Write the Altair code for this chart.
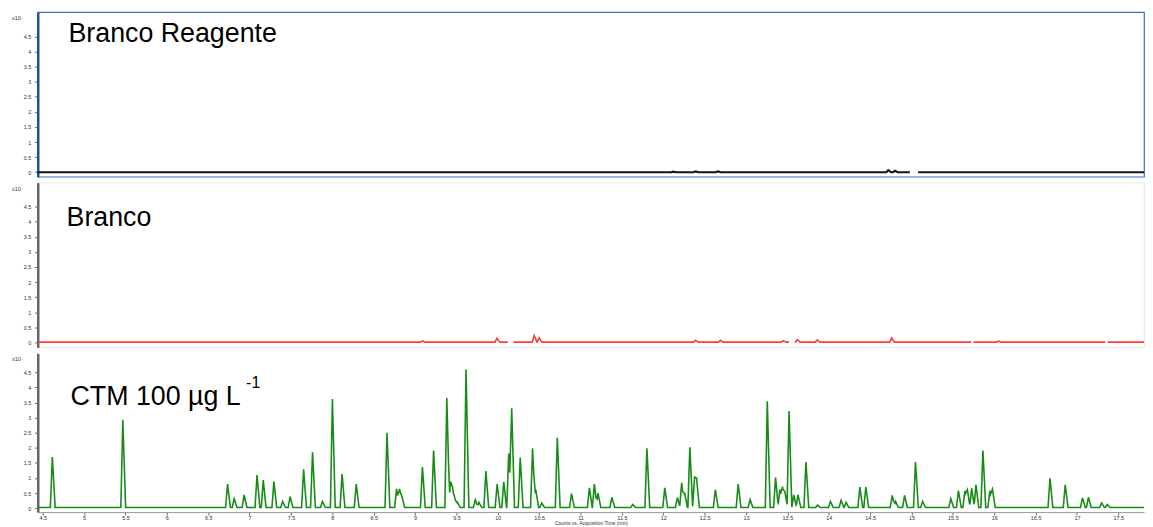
import altair as alt
import pandas as pd
import numpy as np

# ---- data (time in min, intensity in units of 1e7 counts) ----
green_t = [4.616, 5.468, 6.734, 6.814, 6.934, 7.090, 7.165, 7.294, 7.40, 7.49, 7.653, 7.761,
           7.881, 8.001, 8.118, 8.289, 8.661, 8.777, 8.813, 8.841, 9.089, 9.224, 9.384, 9.428,
           9.452, 9.476, 9.512, 9.616, 9.728, 9.772, 9.856, 9.992, 10.072, 10.132, 10.168,
           10.271, 10.420, 10.459, 10.531, 10.719, 10.891, 11.107, 11.167, 11.211, 11.379,
           11.631, 11.802, 12.018, 12.170, 12.222, 12.258, 12.321, 12.378, 12.402, 12.629,
           12.905, 13.049, 13.257, 13.357, 13.409, 13.441, 13.469, 13.520, 13.577, 13.628,
           13.724, 13.864, 14.020, 14.149, 14.209, 14.376, 14.448, 14.767, 14.808, 14.916,
           15.048, 15.135, 15.475, 15.567, 15.645, 15.675, 15.727, 15.779, 15.863, 15.947,
           15.978, 16.674, 16.858, 17.066, 17.138, 17.298, 17.366]
green_h = [1.67, 2.90, 0.78, 0.29, 0.42, 1.08, 0.91, 0.86, 0.20, 0.36, 1.27, 1.83,
           0.20, 3.60, 1.11, 0.78, 2.48, 0.62, 0.62, 0.37, 1.34, 1.89, 3.63, 0.86,
           0.69, 0.37, 0.17, 4.57, 0.26, 0.17, 1.21, 0.78, 0.85, 1.79, 3.29,
           1.66, 1.96, 0.59, 0.15, 2.31, 0.46, 0.65, 0.78, 0.48, 0.34,
           0.10, 1.96, 0.65, 0.33, 0.82, 0.49, 2.00, 1.01, 0.98, 0.59,
           0.78, 0.26, 3.52, 0.99, 0.59, 0.69, 0.53, 3.20, 0.42, 0.43,
           1.51, 0.08, 0.20, 0.24, 0.17, 0.68, 0.68, 0.40, 0.20, 0.40,
           1.51, 0.20, 0.29, 0.56, 0.55, 0.59, 0.64, 0.75, 1.89, 0.55,
           0.61, 0.97, 0.75, 0.32, 0.34, 0.15, 0.10]

red_t = [9.09, 9.99, 10.44, 10.50, 12.39, 12.69, 13.45, 13.62, 13.86, 14.76, 16.05]
red_h = [0.04, 0.13, 0.22, 0.14, 0.06, 0.06, 0.05, 0.08, 0.07, 0.14, 0.03]
red_gaps = [(10.12, 10.19), (13.52, 13.59), (15.72, 15.75), (17.34, 17.37)]

black_t = [12.12, 12.39, 12.66, 14.72, 14.80]
black_h = [0.02, 0.03, 0.03, 0.07, 0.05]
black_gaps = [(14.98, 15.08)]

x_ticks = [4.5, 5, 5.5, 6, 6.5, 7, 7.5, 8, 8.5, 9, 9.5, 10, 10.5, 11, 11.5, 12, 12.5,
           13, 13.5, 14, 14.5, 15, 15.5, 16, 16.5, 17, 17.5]
y_ticks = [0, 0.5, 1, 1.5, 2, 2.5, 3, 3.5, 4, 4.5]

panel_titles = ["Branco Reagente", "Branco", "CTM 100 µg L"]

X_DOMAIN = [4.44, 17.81]
W = 1115


def trace(pt, ph, base, gaps, wl=0.024, wr=0.034):
    pts = set([X_DOMAIN[0], X_DOMAIN[1]])
    for t in pt:
        pts.update([t - wl, t, t + wr])
    for a, b in gaps:
        pts.update([a, b])
    ts = np.array(sorted(pts))
    ys = np.full(ts.shape, base, dtype=float)
    for t, h in zip(pt, ph):
        left = np.clip((ts - (t - wl)) / wl, 0, 1)
        right = np.clip(((t + wr) - ts) / wr, 0, 1)
        tri = np.where(ts <= t, left, right) * h
        ys = np.maximum(ys, base + tri)
    seg = np.zeros(ts.shape, dtype=int)
    keep = np.ones(ts.shape, dtype=bool)
    for a, b in gaps:
        seg += (ts >= b).astype(int)
        keep &= ~((ts > a) & (ts < b))
    return pd.DataFrame({"t": ts[keep], "y": ys[keep], "seg": seg[keep]})


def panel(df, color, height, ydom, title, stroke, axis_color, show_x, sup=None,
          title_y=22, title_x=31, stroke_w=1.6):
    xaxis = None
    if show_x:
        xaxis = alt.Axis(values=x_ticks, format="~g", labelFontSize=5.5, labelColor="#333",
                         tickSize=3, tickColor="#666", domainColor="#999",
                         title="Counts vs. Acquisition Time (min)", titleFontSize=5,
                         titleFontWeight="normal", titleColor="#333", titlePadding=0,
                         labelPadding=0, grid=False, labelFont="Liberation Sans",
                         titleFont="Liberation Sans")
    line = alt.Chart(df).mark_line(color=color, strokeWidth=stroke_w, clip=True).encode(
        x=alt.X("t:Q", scale=alt.Scale(domain=X_DOMAIN, nice=False, zero=False), axis=xaxis),
        y=alt.Y("y:Q", scale=alt.Scale(domain=ydom, nice=False, zero=False),
                axis=alt.Axis(values=y_ticks, format="~g", labelFontSize=5.5,
                              labelColor="#333", tickSize=3, tickColor="#555",
                              domainColor=axis_color, domainWidth=2.5, labelPadding=4,
                              grid=False, title=None, labelFont="Liberation Sans")),
        detail="seg:N",
    )
    lab = alt.Chart(pd.DataFrame({"s": [title]})).mark_text(
        font="Liberation Sans", fontSize=27, align="left", baseline="middle", color="black"
    ).encode(text="s:N", x=alt.value(title_x), y=alt.value(title_y))
    exp = alt.Chart(pd.DataFrame({"s": ["x10⁷"]})).mark_text(
        font="Liberation Sans", fontSize=5.5, align="left", baseline="middle", color="#333"
    ).encode(text="s:N", x=alt.value(-26), y=alt.value(6))
    layers = [line, lab, exp]
    if sup:
        layers.append(alt.Chart(pd.DataFrame({"s": [sup]})).mark_text(
            font="Liberation Sans", fontSize=16, align="left", baseline="middle", color="black"
        ).encode(text="s:N", x=alt.value(210), y=alt.value(title_y - 14)))
    return alt.layer(*layers).properties(
        width=W, height=height,
        view=alt.ViewBackground(stroke=stroke, strokeWidth=1.2),
    )


black_df = trace(black_t, black_h, 0.0, black_gaps)
red_df = trace(red_t, red_h, 0.01, red_gaps)
green_df = trace(green_t, green_h, 0.02, [])

p1 = panel(black_df, "#151515", 166, [-0.148, 5.31], panel_titles[0], "#3f6fc6", "#1f4fa8",
           False, title_y=22, title_x=31, stroke_w=2.2)
p2 = panel(red_df, "#ff3b3b", 166, [-0.164, 5.296], panel_titles[1], "#e8e8e8", "#666666",
           False, title_y=36, title_x=29)
p3 = panel(green_df, "#168c16", 160, [-0.13, 5.13], panel_titles[2], "transparent", "#666666",
           True, sup="-1", title_y=44, title_x=33)

chart = alt.vconcat(p1, p2, p3, spacing=4).properties(
    padding={"left": 3, "top": 1, "right": 0, "bottom": 0}
).configure(background="white")

chart.save("out.html", embed_options={"renderer": "svg", "actions": False})
